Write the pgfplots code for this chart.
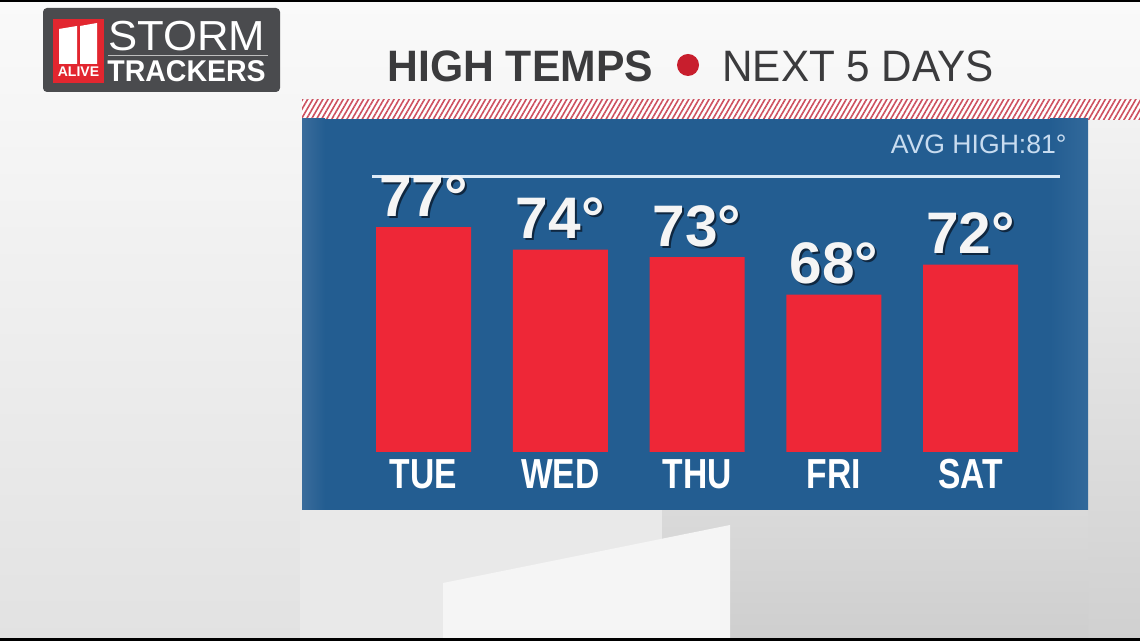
\documentclass[border=0pt]{standalone}
\usepackage{fontspec}
\setmainfont{Liberation Sans}
\newfontfamily\condfont{Liberation Sans}[FakeStretch=0.8]
\usepackage{pgfplots}
\pgfplotsset{compat=1.18}
\usetikzlibrary{patterns.meta}

\definecolor{panel}{RGB}{35,93,145}
\definecolor{panelL}{RGB}{58,108,155}
\definecolor{panelR}{RGB}{50,105,155}
\definecolor{barred}{RGB}{238,39,55}
\definecolor{titlegray}{RGB}{59,59,61}
\definecolor{dotred}{RGB}{200,30,45}
\definecolor{hatchred}{RGB}{205,80,95}
\definecolor{logogray}{RGB}{74,75,78}
\definecolor{logored}{RGB}{226,38,47}
\definecolor{logoline}{RGB}{190,190,190}
\definecolor{avgtext}{RGB}{200,220,240}
\definecolor{avgline}{RGB}{220,234,247}
\definecolor{shadowc}{RGB}{12,30,50}
\definecolor{labelw}{RGB}{245,245,245}
\definecolor{bgtop}{RGB}{250,250,250}
\definecolor{bgbot}{RGB}{226,226,226}
\definecolor{bgRtop}{RGB}{242,242,242}
\definecolor{bgRbot}{RGB}{208,208,208}
\definecolor{bgDtop}{RGB}{218,218,218}
\definecolor{bgDbot}{RGB}{206,206,206}
\definecolor{bgL}{RGB}{233,233,233}
\definecolor{bgW}{RGB}{245,245,245}

\begin{document}
\begin{tikzpicture}
% 1 px of the reference = 0.5pt, y counted from the top
\begin{scope}[x=0.5pt,y=-0.5pt,yshift=320.5pt]
  % background
  \shade[top color=bgtop, bottom color=bgbot] (0,0) rectangle (1140,641);
  \shade[top color=bgRtop, bottom color=bgRbot] (1088,120) rectangle (1140,641);
  \shade[top color=bgDtop, bottom color=bgDbot] (662,510) rectangle (1088,641);
  \fill[bgL] (300,510) rectangle (662,641);
  \fill[bgW] (443,583) -- (730,525) -- (730,641) -- (443,641) -- cycle;
  \fill[black] (0,0) rectangle (1140,2);
  \fill[black] (0,638) rectangle (1140,641);

  % logo
  \fill[logogray, rounded corners=2pt] (43,8) rectangle (280,92);
  \fill[logored] (53,19) rectangle (104,83);
  \fill[white] (59,29) -- (77,26) -- (77,64) -- (59,64) -- cycle;
  \fill[white] (80,26) -- (97,23) -- (97,64) -- (80,64) -- cycle;
  \node[anchor=base, inner sep=0pt, text=white, font=\bfseries\fontsize{7}{7}\selectfont] at (78.5,77) {ALIVE};
  \node[anchor=base west, inner sep=0pt, text=white, font=\fontsize{21}{21}\selectfont] at (108,51) {\scalebox{1.04}[1]{STORM}};
  \draw[logoline, line width=0.6pt] (108,55.5) -- (268,55.5);
  \node[anchor=base west, inner sep=0pt, text=white, font=\bfseries\fontsize{15}{15}\selectfont] at (107,82) {\scalebox{0.95}[1]{TRACKERS}};

  % title
  \node[anchor=base west, inner sep=0pt, text=titlegray, font=\bfseries\fontsize{22}{22}\selectfont] at (387,82) {\scalebox{0.97}[1]{HIGH TEMPS}};
  \fill[dotred] (688,65) circle (5.5pt);
  \node[anchor=base west, inner sep=0pt, text=titlegray, font=\fontsize{22}{22}\selectfont] at (722,82) {\scalebox{0.96}[1]{NEXT 5 DAYS}};

  % hatched band and panel
  \fill[white] (302,100) rectangle (1140,120);
  \fill[pattern={Lines[angle=60,distance=2.2pt,line width=0.8pt]}, pattern color=hatchred] (302,100) rectangle (1140,120);
  \fill[panel] (302,119) rectangle (1088,510);
  \shade[left color=panelL, right color=panel] (302,119) rectangle (325,510);
  \shade[left color=panel, right color=panelR] (1050,119) rectangle (1088,510);

  \node[anchor=base east, inner sep=0pt, text=avgtext, font=\fontsize{13.3}{13}\selectfont] at (1067,154) {AVG HIGH:81°};
\end{scope}

\begin{axis}[
  at={(151pt,94.5pt)}, anchor=south west,
  width=393pt, height=166pt, scale only axis,
  xmin=-0.8885, xmax=4.859, ymin=47, ymax=91.27,
  axis line style={draw=none}, tick style={draw=none},
  ytick=\empty,
  xtick={0,1,2,3,4},
  xticklabels={TUE,WED,THU,FRI,SAT},
  xticklabel style={font=\condfont\bfseries\fontsize{21}{21}\selectfont,
    text=white, inner sep=0pt, anchor=base, yshift=-14pt},
  ybar, bar width=47.5pt,
  clip=false,
]
  % average high line (as placed in the graphic)
  \draw[avgline, line width=1.5pt] (rel axis cs:0.089,0.831) -- (rel axis cs:0.964,0.831);

  % shadow of the value labels
  \addplot[draw=none, fill=none, bar shift=0pt,
    nodes near coords={\pgfmathprintnumber[assume math mode=true]{\pgfplotspointmeta}°},
    every node near coord/.append style={font=\bfseries\fontsize{29.3}{30}\selectfont,
      text=shadowc, opacity=0.85, anchor=base, inner sep=0pt, xshift=1pt, yshift=4.5pt}]
    coordinates {(0,77) (1,74) (2,73) (3,68) (4,72)};

  % high temperatures
  \addplot[draw=none, fill=barred, bar shift=0pt,
    nodes near coords={\pgfmathprintnumber[assume math mode=true]{\pgfplotspointmeta}°},
    every node near coord/.append style={font=\bfseries\fontsize{29.3}{30}\selectfont,
      text=labelw, anchor=base, inner sep=0pt, yshift=5.5pt}]
    coordinates {(0,77) (1,74) (2,73) (3,68) (4,72)};
\end{axis}

\pgfresetboundingbox
\useasboundingbox (0,0) rectangle (570pt,320.5pt);
\end{tikzpicture}
\end{document}
